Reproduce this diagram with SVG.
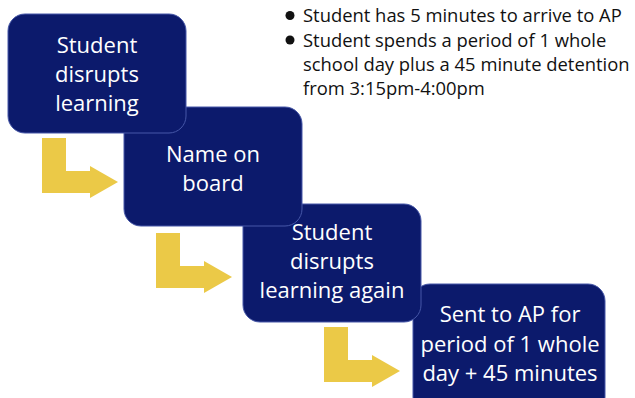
<svg xmlns="http://www.w3.org/2000/svg" width="635" height="398" viewBox="0 0 635 398">
  <style>
    .box { fill: #0c1a6c; stroke: #4657a8; stroke-width: 1; }
    .bt { font-family: "Open Sans", "Liberation Sans", sans-serif; font-size: 22px; fill: #ffffff; text-anchor: middle; }
    .note { font-family: "Open Sans", "Liberation Sans", sans-serif; font-size: 18.4px; fill: #111111; }
    .arrow { fill: #ebc947; }
  </style>
  <defs>
    <path id="bent" d="M0 0 H24 V33 H48 V28 L76 44 L48 60 V55 H0 Z"/>
  </defs>
  <rect width="635" height="398" fill="#ffffff"/>

  <g id="notes">
    <circle cx="290" cy="15.5" r="4.5" fill="#111111"/>
    <text class="note" x="303" y="22">Student has 5 minutes to arrive to AP</text>
    <circle cx="290" cy="40" r="4.5" fill="#111111"/>
    <text class="note" x="303" y="46.5">Student spends a period of 1 whole</text>
    <text class="note" x="303" y="71">school day plus a 45 minute detention</text>
    <text class="note" x="303" y="95">from 3:15pm-4:00pm</text>
  </g>

  <g id="connectors">
    <use href="#bent" class="arrow" x="42" y="138"/>
    <use href="#bent" class="arrow" x="156" y="233"/>
    <use href="#bent" class="arrow" x="324" y="327"/>
  </g>

  <g id="node4">
    <rect class="box" x="413" y="284" width="192" height="130" rx="17"/>
    <text class="bt" x="510" y="322">Sent to AP for</text>
    <text class="bt" x="510" y="352">period of 1 whole</text>
    <text class="bt" x="510" y="381">day + 45 minutes</text>
  </g>

  <g id="node3">
    <rect class="box" x="243" y="204" width="178" height="118" rx="17"/>
    <text class="bt" x="332" y="240">Student</text>
    <text class="bt" x="332" y="269">disrupts</text>
    <text class="bt" x="332" y="298">learning again</text>
  </g>

  <g id="node2">
    <rect class="box" x="124" y="107" width="178" height="119" rx="17"/>
    <text class="bt" x="213" y="162">Name on</text>
    <text class="bt" x="213" y="191">board</text>
  </g>

  <g id="node1">
    <rect class="box" x="8" y="14" width="178" height="119" rx="17"/>
    <text class="bt" x="97" y="53">Student</text>
    <text class="bt" x="97" y="82">disrupts</text>
    <text class="bt" x="97" y="111">learning</text>
  </g>
</svg>
